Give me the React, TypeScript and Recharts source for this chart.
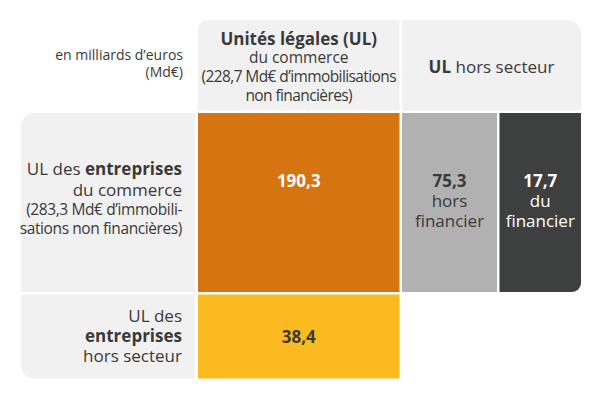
import { ComposedChart, XAxis, YAxis, ReferenceArea } from "recharts";

// values in Md€
const cellValues = [190.3, 75.3, 17.7, 38.4];
const cellSubLabels = [[], ["hors", "financier"], ["du", "financier"], []];
const colHeaderTotals = [228.7];
const rowHeaderTotals = [283.3];
const unitNote = ["en milliards d’euros", "(Md€)"];

const W = 601;
const H = 399;
const FONT = "'Open Sans', sans-serif";
const TXT = "#3a3a3a";
const BG = "#f1f1f1";

const fmt = (v: number) => v.toFixed(1).replace(".", ",");

// grid of the table (pixels in chart units)
const colX = [
  [21, 195],
  [198, 399.5],
  [402, 497],
  [499.5, 581],
];
const rowY = [
  [20, 110.5],
  [113, 292],
  [294.5, 378.5],
];

const roundedRect = (x: number, y: number, w: number, h: number, r: number[]) => {
  const [tl, tr, br, bl] = r;
  return `M${x + tl},${y} H${x + w - tr} A${tr},${tr} 0 0 1 ${x + w},${y + tr} V${y + h - br} A${br},${br} 0 0 1 ${x + w - br},${y + h} H${x + bl} A${bl},${bl} 0 0 1 ${x},${y + h - bl} V${y + tl} A${tl},${tl} 0 0 1 ${x + tl},${y} Z`;
};

type Line = { t: any; dy: number; size: number; weight?: number; fill?: string; ls?: number };

type CellDef = {
  c0: number;
  c1: number;
  r: number;
  fill: string;
  radius: number[];
  anchor: "middle" | "end";
  lines: Line[];
};

const bold = (s: string) => <tspan fontWeight={700}>{s}</tspan>;

const valueLines = (i: number, color: string): Line[] => [
  { t: fmt(cellValues[i]), dy: 74, size: 17, weight: 700, fill: color },
  ...cellSubLabels[i].map((s, k) => ({ t: s, dy: 94 + k * 20, size: 17, fill: color })),
];

const cells: CellDef[] = [
  {
    c0: 1, c1: 1, r: 0, fill: BG, radius: [9, 0, 0, 0], anchor: "middle",
    lines: [
      { t: "Unités légales (UL)", dy: 25, size: 17, weight: 700 },
      { t: "du commerce", dy: 43, size: 15.5 },
      { t: `(${fmt(colHeaderTotals[0])} Md€ d’immobilisations`, dy: 62, size: 15.5, ls: -0.6 },
      { t: "non financières)", dy: 80.5, size: 15.5, ls: -0.6 },
    ],
  },
  {
    c0: 2, c1: 3, r: 0, fill: BG, radius: [0, 14, 0, 0], anchor: "middle",
    lines: [{ t: <>{bold("UL")} hors secteur</>, dy: 53, size: 17 }],
  },
  {
    c0: 0, c1: 0, r: 1, fill: BG, radius: [14, 0, 0, 0], anchor: "end",
    lines: [
      { t: <>UL des {bold("entreprises")}</>, dy: 62, size: 17 },
      { t: "du commerce", dy: 83, size: 17 },
      { t: `(${fmt(rowHeaderTotals[0])} Md€ d’immobili-`, dy: 101.5, size: 15.5, ls: -0.4 },
      { t: "sations non financières)", dy: 121, size: 15.5, ls: -0.4 },
    ],
  },
  { c0: 1, c1: 1, r: 1, fill: "#d57411", radius: [0, 0, 0, 0], anchor: "middle", lines: valueLines(0, "#ffffff") },
  { c0: 2, c1: 2, r: 1, fill: "#b1b1b1", radius: [0, 0, 0, 0], anchor: "middle", lines: valueLines(1, TXT) },
  { c0: 3, c1: 3, r: 1, fill: "#3e3f3f", radius: [0, 0, 9, 0], anchor: "middle", lines: valueLines(2, "#ffffff") },
  {
    c0: 0, c1: 0, r: 2, fill: BG, radius: [0, 0, 0, 14], anchor: "end",
    lines: [
      { t: "UL des", dy: 27, size: 17 },
      { t: bold("entreprises"), dy: 47, size: 17 },
      { t: "hors secteur", dy: 67, size: 17 },
    ],
  },
  {
    c0: 1, c1: 1, r: 2, fill: "#fbba20", radius: [0, 0, 0, 0], anchor: "middle",
    lines: [{ t: fmt(cellValues[3]), dy: 48.5, size: 17, weight: 700, fill: TXT }],
  },
];

const CellShape = (cell: CellDef) => (props: any) => {
  const { x, y, width, height } = props;
  const tx = cell.anchor === "middle" ? x + width / 2 : x + width - 13;
  return (
    <g>
      <path d={roundedRect(x, y, width, height, cell.radius)} fill={cell.fill} />
      {cell.lines.map((l, i) => (
        <text
          key={i}
          x={tx}
          y={y + l.dy}
          textAnchor={cell.anchor}
          fontFamily={FONT}
          fontSize={l.size}
          fontWeight={l.weight ?? 400}
          letterSpacing={l.ls ?? 0}
          fill={l.fill ?? TXT}
        >
          {l.t}
        </text>
      ))}
    </g>
  );
};

const NoteShape = (props: any) => {
  const { x, y, width } = props;
  return (
    <g>
      {unitNote.map((s, i) => (
        <text key={i} x={x + width} y={y + 40 + i * 17} textAnchor="end" fontFamily={FONT} fontSize={14} fill={TXT}>
          {s}
        </text>
      ))}
    </g>
  );
};

export default function App() {
  return (
    <div style={{ position: "absolute", left: 0, top: 0, background: "#fff" }}>
      <ComposedChart width={W} height={H} data={[]} margin={{ top: 0, right: 0, bottom: 0, left: 0 }}>
        <XAxis type="number" dataKey="x" domain={[0, W]} hide allowDataOverflow />
        <YAxis type="number" dataKey="y" domain={[0, H]} reversed hide allowDataOverflow />
        <ReferenceArea x1={21} x2={183} y1={20} y2={110} fill="none" shape={NoteShape} ifOverflow="visible" />
        {cells.map((c, i) => (
          <ReferenceArea
            key={i}
            x1={colX[c.c0][0]}
            x2={colX[c.c1][1]}
            y1={rowY[c.r][0]}
            y2={rowY[c.r][1]}
            shape={CellShape(c)}
            ifOverflow="visible"
          />
        ))}
      </ComposedChart>
    </div>
  );
}
